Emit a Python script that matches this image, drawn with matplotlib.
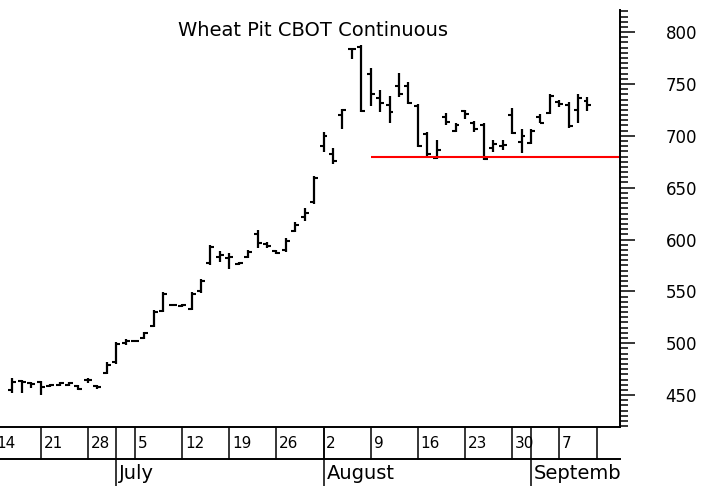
"""
Wheat Pit CBOT Continuous - daily OHLC bars, summer 2010
"""

import matplotlib
matplotlib.use("Agg")
import matplotlib.pyplot as plt
from matplotlib.ticker import MultipleLocator
import numpy as np

# trading-day slot index (0 = Jun 14) for each bar
day_idx = list(range(2, 64))

highs = [466, 465, 463, 464, 461, 463, 463, 460, 466, 460,
         482, 501, 504, 503, 511, 532, 549, 538, 538, 549,
         562, 595, 589, 587, 578, 590, 609, 598, 590, 601,
         617, 630, 661, 704, 688, 726, 785, 788, 765, 744,
         738, 761, 752, 731, 704, 696, 722, 712, 725, 714,
         712, 696, 696, 727, 707, 707, 721, 740, 735, 733,
         740, 737]
lows = [452, 452, 457, 450, 458, 459, 459, 455, 462, 456,
        470, 480, 498, 501, 504, 516, 530, 536, 535, 532,
        548, 575, 578, 572, 575, 582, 592, 592, 586, 588,
        607, 618, 634, 684, 673, 707, 774, 723, 729, 723,
        712, 737, 731, 689, 680, 678, 710, 704, 716, 704,
        677, 684, 686, 702, 683, 692, 712, 721, 728, 708,
        712, 724]
opens = [455, 464, 462, 463, 459, 460, 460, 459, 465, 459,
         471, 482, 500, 502, 505, 517, 531, 537, 536, 533,
         550, 577, 583, 582, 576, 583, 605, 596, 589, 590,
         608, 622, 636, 690, 682, 720, 784, 786, 760, 736,
         730, 748, 748, 729, 702, 679, 718, 705, 724, 712,
         710, 688, 690, 720, 694, 693, 718, 722, 733, 730,
         725, 734]
closes = [463, 463, 461, 458, 460, 462, 462, 456, 465, 458,
          479, 499, 502, 502, 510, 530, 547, 537, 537, 547,
          560, 593, 585, 583, 577, 588, 597, 594, 587, 599,
          614, 626, 659, 700, 676, 725, 784, 724, 740, 732,
          723, 740, 732, 690, 682, 686, 713, 710, 721, 707,
          678, 692, 691, 703, 700, 705, 712, 738, 731, 709,
          736, 730]

support_level = 680
support_start = 40

week_idx = [0, 5, 10, 15, 20, 25, 30, 35, 40, 45, 50, 55, 60, 64]
week_labels = ["14", "21", "28", "5", "12", "19", "26", "2", "9", "16",
               "23", "30", "7", ""]
month_idx = [13, 35, 57]
month_labels = ["July", "August", "September"]

plt.rcParams['font.family'] = ['DejaVu Sans']

fig = plt.figure(figsize=(7.09, 4.86), dpi=100)
ax = fig.add_axes([0.0, 0.1214, 0.8745, 0.858])
band = fig.add_axes([0.0, 0.0, 0.8745, 0.1214])

x_lo, x_hi = 0.68, 66.45

# OHLC bars
tick_len = 0.42
ax.vlines(day_idx, lows, highs, color='black', lw=1.6)
ax.hlines(opens, np.array(day_idx) - tick_len, day_idx, color='black', lw=1.5)
ax.hlines(closes, day_idx, np.array(day_idx) + tick_len, color='black', lw=1.5)

# support line
ax.hlines(support_level, support_start, x_hi, color='red', lw=1.5)

ax.set_xlim(x_lo, x_hi)
ax.set_ylim(419.2, 821.3)

ax.spines['left'].set_visible(False)
ax.spines['top'].set_visible(False)
ax.spines['right'].set_linewidth(1.4)
ax.spines['bottom'].set_linewidth(1.4)
ax.set_xticks([])
ax.yaxis.tick_right()
ax.yaxis.set_major_locator(MultipleLocator(50))
ax.yaxis.set_minor_locator(MultipleLocator(5))
ax.tick_params(axis='y', which='major', length=10.8, width=1.1, pad=22,
               labelsize=12, direction='out')
ax.tick_params(axis='y', which='minor', length=5.6, width=1.1, direction='out')
ax.set_yticks([450, 500, 550, 600, 650, 700, 750, 800])

ax.text(0.505, 0.952, 'Wheat Pit CBOT Continuous', transform=ax.transAxes,
        ha='center', va='center', fontsize=14)

# date band below the plot
band.set_xlim(x_lo, x_hi)
band.set_ylim(0, 1)
band.axis('off')
row_y = 0.4576
band.plot([x_lo, x_hi], [row_y, row_y], color='black', lw=1.4, clip_on=False)
for i, lab in zip(week_idx, week_labels):
    band.plot([i, i], [row_y, 1], color='black', lw=1.1)
    band.text(i + 0.3, 0.72, lab, ha='left', va='center', fontsize=11, clip_on=True)
for i, lab in zip(month_idx, month_labels):
    band.plot([i, i], [0, 1], color='black', lw=1.1)
    band.text(i + 0.3, 0.22, lab, ha='left', va='center', fontsize=14, clip_on=True)

fig.savefig('out.png', dpi=100)
